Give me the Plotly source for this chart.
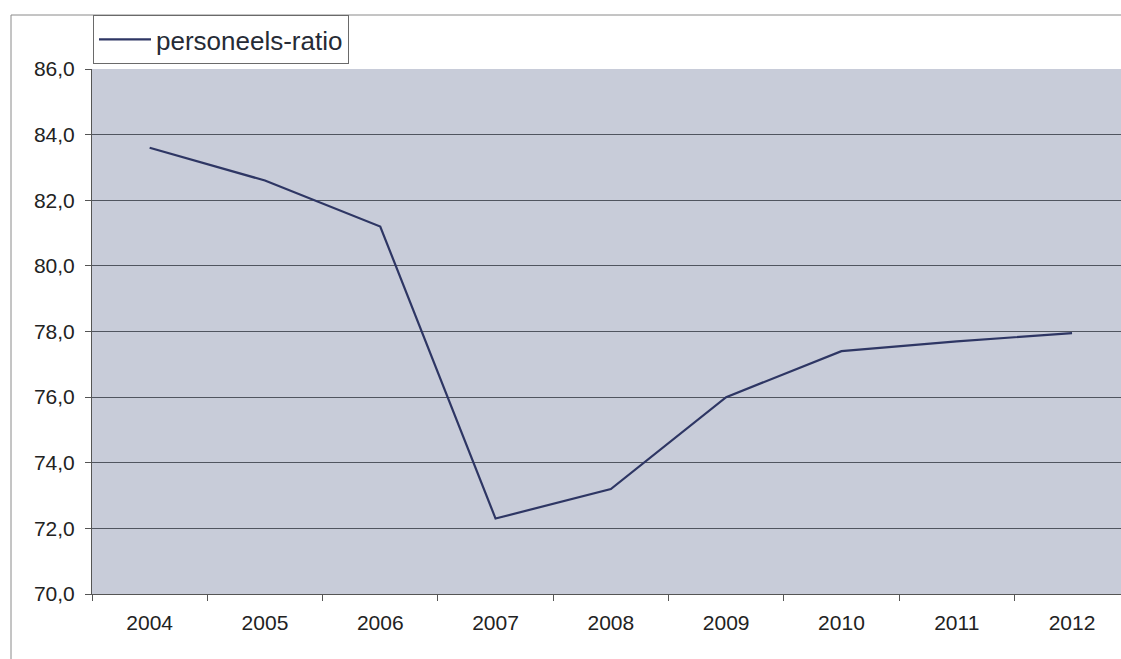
import plotly.graph_objects as go

# Personeels-ratio per jaar
years = ["2004", "2005", "2006", "2007", "2008", "2009", "2010", "2011", "2012"]
ratio = [83.6, 82.6, 81.2, 72.3, 73.2, 76.0, 77.4, 77.7, 77.95]
series_name = "personeels-ratio"

W, H = 1121, 659
L, R, T, B = 92, 0, 69, 65
plot_w = W - L - R
plot_h = H - T - B


def px_x(px):
    return (px - L) / plot_w


def px_y(py):
    return (H - B - py) / plot_h


fig = go.Figure()
fig.add_trace(go.Scatter(
    x=years, y=ratio, mode="lines", name=series_name,
    line=dict(color="#2e3664", width=2.2),
))

font_family = "Liberation Sans, Arial, sans-serif"

fig.update_layout(
    width=W, height=H,
    margin=dict(l=L, r=R, t=T, b=B, pad=0),
    paper_bgcolor="white",
    plot_bgcolor="#c8ccd9",
    separators=",.",
    font=dict(family=font_family, color="#222222"),
    showlegend=True,
    legend=dict(
        x=px_x(93), y=px_y(15), xanchor="left", yanchor="top",
        bgcolor="white", bordercolor="#6a6a6a", borderwidth=1,
        font=dict(size=26, color="#262b36"),
        itemwidth=52,
    ),
    xaxis=dict(
        type="category",
        range=[-0.5, -0.5 + plot_w / 115.3],
        tickson="boundaries",
        ticks="outside", ticklen=6, tickcolor="#555",
        showgrid=False,
        showline=True, linecolor="#555", linewidth=1,
        tickfont=dict(size=21, color="#222222"),
        ticklabelstandoff=10,
        zeroline=False,
    ),
    yaxis=dict(
        range=[70, 86], dtick=2, tickformat=".1f",
        ticks="outside", ticklen=6, tickcolor="#555",
        showgrid=True, gridcolor="#50555f", gridwidth=1,
        showline=True, linecolor="#555", linewidth=1,
        tickfont=dict(size=21, color="#222222"),
        ticklabelstandoff=6,
        zeroline=False,
    ),
    shapes=[
        # outer chart frame
        dict(type="rect", xref="paper", yref="paper",
             x0=px_x(11), x1=px_x(1130), y0=px_y(670), y1=px_y(15),
             line=dict(color="#8a8a8a", width=1), layer="below"),
    ],
)

fig.write_html("out.html")
